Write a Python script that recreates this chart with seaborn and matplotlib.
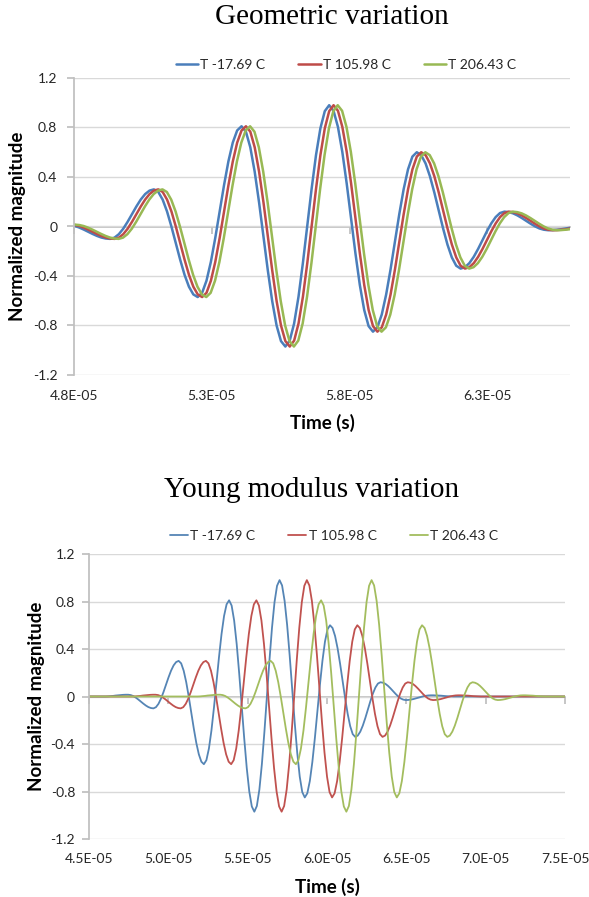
import numpy as np
import pandas as pd
import matplotlib
matplotlib.use('Agg')
import matplotlib.pyplot as plt
from matplotlib.ticker import FixedLocator, FuncFormatter
import seaborn as sns

series_names = ['T -17.69 C', 'T 105.98 C', 'T 206.43 C']

# one received pulse: time from the first dip (us)
pulse_us = [-3.180, -3.021, -2.862, -2.703, -2.544, -2.385, -2.226, -2.067, -1.908, -1.749,
            -1.590, -1.431, -1.272, -1.113, -0.954, -0.795, -0.636, -0.477, -0.318, -0.159,
            0.000, 0.159, 0.318, 0.477, 0.636, 0.795, 0.954, 1.113, 1.272, 1.431,
            1.590, 1.749, 1.908, 2.067, 2.226, 2.385, 2.544, 2.703, 2.862, 3.021,
            3.180, 3.339, 3.498, 3.657, 3.816, 3.975, 4.134, 4.293, 4.452, 4.611,
            4.770, 4.929, 5.088, 5.247, 5.406, 5.565, 5.724, 5.883, 6.042, 6.201,
            6.360, 6.519, 6.678, 6.837, 6.996, 7.155, 7.314, 7.473, 7.632, 7.791,
            7.950, 8.109, 8.268, 8.427, 8.586, 8.745, 8.904, 9.063, 9.222, 9.381,
            9.540, 9.699, 9.858, 10.017, 10.176, 10.335, 10.494, 10.653, 10.812, 10.971,
            11.130, 11.289, 11.448, 11.607, 11.766, 11.925, 12.084, 12.243, 12.402, 12.561,
            12.720, 12.879, 13.038, 13.197, 13.356, 13.515, 13.674, 13.833, 13.992, 14.151,
            14.310, 14.469, 14.628, 14.787, 14.946, 15.105, 15.264, 15.423, 15.582, 15.741,
            15.900, 16.059, 16.218, 16.377, 16.536, 16.695, 16.854, 17.013, 17.172, 17.331,
            17.490, 17.649, 17.808, 17.967, 18.126, 18.285, 18.444, 18.603, 18.762, 18.921,
            19.080]
pulse_mag = [0.000, 0.000, 0.001, 0.003, 0.005, 0.008, 0.010, 0.012, 0.014, 0.015,
             0.015, 0.012, 0.004, -0.009, -0.025, -0.043, -0.060, -0.076, -0.089, -0.097,
             -0.100, -0.090, -0.062, -0.018, 0.038, 0.100, 0.162, 0.218, 0.262, 0.290,
             0.300, 0.279, 0.217, 0.121, -0.001, -0.135, -0.269, -0.391, -0.487, -0.549,
             -0.570, -0.536, -0.438, -0.286, -0.093, 0.120, 0.333, 0.526, 0.678, 0.776,
             0.810, 0.766, 0.640, 0.443, 0.195, -0.080, -0.355, -0.603, -0.800, -0.926,
             -0.970, -0.922, -0.784, -0.568, -0.296, 0.005, 0.306, 0.578, 0.794, 0.932,
             0.980, 0.935, 0.805, 0.603, 0.348, 0.065, -0.218, -0.473, -0.675, -0.805,
             -0.850, -0.815, -0.712, -0.551, -0.349, -0.125, 0.099, 0.301, 0.462, 0.565,
             0.600, 0.577, 0.510, 0.406, 0.275, 0.130, -0.015, -0.146, -0.250, -0.317,
             -0.340, -0.329, -0.296, -0.245, -0.181, -0.110, -0.039, 0.025, 0.076, 0.109,
             0.120, 0.116, 0.106, 0.089, 0.068, 0.045, 0.022, 0.001, -0.016, -0.026,
             -0.030, -0.029, -0.026, -0.022, -0.016, -0.010, -0.004, 0.002, 0.006, 0.009,
             0.010, 0.010, 0.009, 0.008, 0.007, 0.005, 0.003, 0.002, 0.001, 0.000,
             0.000]

# arrival of the first dip for each temperature (s)
geo_arrival = [4.931e-05, 4.947e-05, 4.962e-05]
young_arrival = [4.906e-05, 5.078e-05, 5.486e-05]
young_window = [4.5e-05, 7.5e-05]

geo_xticks = [4.8e-05, 5.3e-05, 5.8e-05, 6.3e-05]
geo_xlim = [4.8e-05, 6.6e-05]
young_xticks = [4.5e-05, 5.0e-05, 5.5e-05, 6.0e-05, 6.5e-05, 7.0e-05, 7.5e-05]
yticks = [-1.2, -0.8, -0.4, 0, 0.4, 0.8, 1.2]

geo_colors = ['#4a7ebb', '#be4b48', '#98b954']
young_colors = ['#5585b5', '#c0524f', '#a3bd5e']


def build_frame(arrivals, window=None):
    parts = []
    for name, t0 in zip(series_names, arrivals):
        t = t0 + np.array(pulse_us) * 1e-6
        m = np.array(pulse_mag)
        if window is not None:
            t = np.concatenate([[window[0]], t, [window[1]]])
            m = np.concatenate([[0.0], m, [0.0]])
        parts.append(pd.DataFrame({'time': t, 'magnitude': m, 'series': name}))
    return pd.concat(parts, ignore_index=True)


geo_df = build_frame(geo_arrival)
young_df = build_frame(young_arrival, young_window)

sns.set_theme(style='white')
plt.rcParams['font.family'] = ['Lato', 'DejaVu Sans']

grid_grey = '#d9d9d9'
axis_grey = '#bfbfbf'
text_col = '#262626'

fig = plt.figure(figsize=(5.89, 8.97), dpi=100)
ax1 = fig.add_axes([74 / 589, 1 - 375 / 897, 496 / 589, 297 / 897])
ax2 = fig.add_axes([89 / 589, 1 - 839 / 897, 476 / 589, 285 / 897])


def style_axis(ax, xticks, xlim, fs, xpad, ypad, xlab_y, ylab_x, leg_xy, hlen):
    ax.set_xlim(xlim)
    ax.set_ylim(-1.2, 1.2)
    ax.xaxis.set_major_locator(FixedLocator(xticks))
    ax.yaxis.set_major_locator(FixedLocator(yticks))
    ax.xaxis.set_major_formatter(FuncFormatter(lambda v, p: f'{v:.1E}'))
    ax.yaxis.set_major_formatter(FuncFormatter(lambda v, p: '0' if abs(v) < 1e-9 else f'{v:.1f}'))
    ax.yaxis.grid(True, color=grid_grey, lw=1)
    ax.xaxis.grid(False)
    for s in ['top', 'right', 'bottom']:
        ax.spines[s].set_visible(False)
    ax.spines['left'].set_color(axis_grey)
    ax.tick_params(axis='x', length=0, pad=xpad, labelsize=fs, labelcolor=text_col)
    ax.tick_params(axis='y', left=True, length=5, color=axis_grey, direction='out',
                   pad=ypad, labelsize=fs, labelcolor=text_col)
    # horizontal axis crossing at zero with its tick marks
    sec = ax.secondary_xaxis(0.4999)
    sec.xaxis.set_major_locator(FixedLocator(xticks))
    sec.tick_params(axis='x', direction='out', length=5, color=axis_grey,
                    labelbottom=False, labeltop=False)
    sec.spines['bottom'].set_color(axis_grey)
    ax.set_xlabel('Time (s)', fontsize=13.5, fontweight='bold', color='black')
    ax.set_ylabel('Normalized magnitude', fontsize=13.5, fontweight='bold', color='black')
    ax.xaxis.set_label_coords(0.5, xlab_y)
    ax.xaxis.label.set_va('center')
    ax.yaxis.set_label_coords(ylab_x, 0.5)
    ax.yaxis.label.set_va('center')
    handles, labels = ax.get_legend_handles_labels()
    if ax.get_legend() is not None:
        ax.get_legend().remove()
    ax.legend(handles, labels, ncol=3, loc='center', bbox_to_anchor=leg_xy,
              bbox_transform=fig.transFigure, frameon=False, fontsize=fs,
              handlelength=hlen, handletextpad=0.15, columnspacing=2.4,
              labelcolor=text_col)


sns.lineplot(data=geo_df, x='time', y='magnitude', hue='series',
             palette=geo_colors, estimator=None, linewidth=1.8, ax=ax1)
sns.lineplot(data=young_df, x='time', y='magnitude', hue='series',
             palette=young_colors, estimator=None, linewidth=1.3, ax=ax2)

style_axis(ax1, geo_xticks, geo_xlim, 10, 11, 7, (375 - 423) / 297, (18 - 74) / 496,
           (346 / 589, 1 - 65 / 897), 1.6)
style_axis(ax2, young_xticks, young_window, 10, 10, 5, (839 - 887) / 285, (37 - 89) / 476,
           (334 / 589, 1 - 536 / 897), 1.3)

fig.text(332 / 589, 1 - 17 / 897, 'Geometric variation', ha='center', va='center',
         fontsize=21, family='Liberation Serif', color='black')
fig.text(312 / 589, 1 - 490 / 897, 'Young modulus variation', ha='center', va='center',
         fontsize=21, family='Liberation Serif', color='black')

fig.savefig('out.png', dpi=100, facecolor='white')
